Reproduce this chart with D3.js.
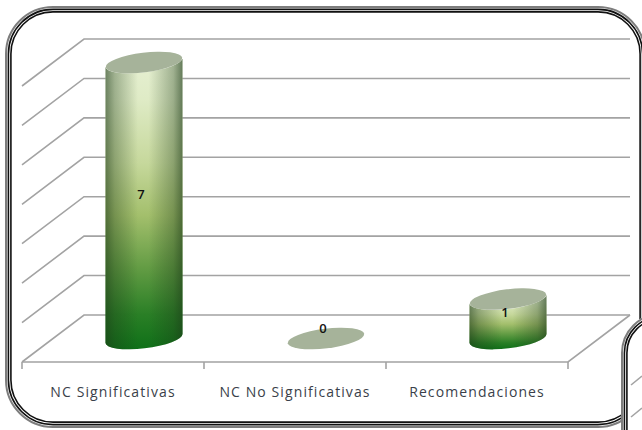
<!DOCTYPE html>
<html>
<head>
<meta charset="utf-8">
<script src="https://d3js.org/d3.v7.min.js"></script>
<style>
    html, body { margin: 0; padding: 0; background: #fff; }
    svg { display: block; }
    text { font-family: "Open Sans", sans-serif; }
</style>
</head>
<body>
<div id="chart"></div>
<script>
    var categories = ["NC Significativas", "NC No Significativas", "Recomendaciones"];
    var counts = [7, 0, 1];
    var wallTicks = [0, 1, 2, 3, 4, 5, 6, 7];
    // wall lines of the next panel, only its left edge shows
    var nextPanelTicks = [1, 2];

    var width = 642, height = 430;

    // front edge of the floor, the back wall sits one depth step up and right
    var floor = {left: 22, right: 568, front: 362};
    var depth = {x: 62, y: 47};

    var svg = d3.select("#chart")
        .append("svg")
        .attr("width", width)
        .attr("height", height);

    var x = d3.scaleBand().domain(categories).range([floor.left, floor.right]);
    var y = d3.scaleLinear().domain([0, 7]).range([floor.front - depth.y, 39]);

    var defs = svg.append("defs");

    // light at the top fading down to dark green
    var bodyGrad = defs.append("linearGradient")
        .attr("id", "bodyGrad")
        .attr("x1", 0).attr("y1", 0).attr("x2", 0).attr("y2", 1);
    [[0, "#e6f0d2"], [0.14, "#dfebc6"], [0.36, "#c6d89c"], [0.54, "#a3bf6c"],
     [0.72, "#639c44"], [0.88, "#2a7f26"], [1, "#0f7018"]].forEach(function(s) {
        bodyGrad.append("stop").attr("offset", s[0]).attr("stop-color", s[1]);
    });

    // dark edges that make the body look round
    var edgeGrad = defs.append("linearGradient")
        .attr("id", "edgeGrad")
        .attr("x1", 0).attr("y1", 0).attr("x2", 1).attr("y2", 0);
    [[0, 0.6], [0.12, 0.34], [0.42, 0], [0.56, 0], [0.88, 0.34], [1, 0.64]].forEach(function(s) {
        edgeGrad.append("stop")
            .attr("offset", s[0])
            .attr("stop-color", "#1c3a18")
            .attr("stop-opacity", s[1]);
    });

    function frame(x0, y0, x1, y1, r, fill) {
        var g = svg.append("g");
        g.append("rect")
            .attr("x", x0).attr("y", y0)
            .attr("width", x1 - x0).attr("height", y1 - y0)
            .attr("rx", r)
            .style("fill", fill);
        [[1, 2, "#7d7d7d"], [3.4, 1.6, "#111"], [5.9, 1.6, "#111"]].forEach(function(l) {
            g.append("rect")
                .attr("x", x0 + l[0]).attr("y", y0 + l[0])
                .attr("width", x1 - x0 - 2 * l[0]).attr("height", y1 - y0 - 2 * l[0])
                .attr("rx", r - l[0])
                .style("fill", "none")
                .style("stroke", l[2])
                .style("stroke-width", l[1]);
        });
    }

    frame(5, 6, 646, 428, 48, "#fff");

    // back wall, left wall and floor
    var grid = svg.append("g")
        .style("stroke", "#a3a3a3")
        .style("stroke-width", 1.6)
        .style("fill", "none");

    grid.selectAll(".wall")
        .data(wallTicks)
        .enter().append("path")
        .attr("class", "wall")
        .attr("d", function(d) {
            return "M" + floor.left + "," + (y(d) + depth.y) +
                "L" + (floor.left + depth.x) + "," + y(d) +
                "H" + (floor.right + depth.x);
        });

    grid.append("path")
        .attr("d", "M" + (floor.right + depth.x) + "," + y(0) +
            "L" + floor.right + "," + floor.front +
            "H" + floor.left);

    // category ticks sit on the band edges
    grid.selectAll(".cut")
        .data(categories.map(function(c) { return x(c); }).concat(floor.right))
        .enter().append("line")
        .attr("class", "cut")
        .attr("x1", function(d) { return d; })
        .attr("x2", function(d) { return d; })
        .attr("y1", floor.front)
        .attr("y2", floor.front + 7);

    var xAxis = d3.axisBottom(x).tickSize(0).tickPadding(25);
    var axisG = svg.append("g")
        .attr("transform", "translate(0," + floor.front + ")")
        .call(xAxis);
    axisG.select(".domain").remove();
    axisG.selectAll("text")
        .style("font-family", '"Open Sans", sans-serif')
        .style("font-size", "14px")
        .style("letter-spacing", "1.1px")
        .style("fill", "#3a3f4a");

    // cylinders
    var rx = 38.5, ry = 9.8, tilt = -7;
    var edgeDrop = 4.6;
    var baseShift = 23.5;

    function cx(c) { return x(c) + x.bandwidth() / 2 + depth.x / 2; }
    function baseY(v) { return y(v) + baseShift; }

    function sidePath(c, v) {
        var l = cx(c) - rx, r = cx(c) + rx;
        var top = baseY(v), bottom = baseY(0);
        var arc = "A" + rx + "," + ry + " " + tilt + " 0 ";
        return "M" + l + "," + (top + edgeDrop) +
            "L" + l + "," + (bottom + edgeDrop) +
            arc + "0 " + r + "," + (bottom - edgeDrop) +
            "L" + r + "," + (top - edgeDrop) +
            arc + "1 " + l + "," + (top + edgeDrop) + "Z";
    }

    var bars = svg.selectAll(".bar")
        .data(categories.map(function(c, i) { return {cat: c, val: counts[i]}; }))
        .enter().append("g")
        .attr("class", "bar");

    bars.filter(function(d) { return d.val > 0; })
        .append("path")
        .attr("d", function(d) { return sidePath(d.cat, d.val); })
        .style("fill", "url(#bodyGrad)");

    bars.filter(function(d) { return d.val > 0; })
        .append("path")
        .attr("d", function(d) { return sidePath(d.cat, d.val); })
        .style("fill", "url(#edgeGrad)");

    bars.append("ellipse")
        .attr("rx", rx)
        .attr("ry", ry)
        .attr("transform", function(d) {
            return "translate(" + cx(d.cat) + "," + baseY(d.val) + ") rotate(" + tilt + ")";
        })
        .style("fill", "#a6b39a");

    bars.append("text")
        .attr("x", function(d) { return cx(d.cat) - 3; })
        .attr("y", function(d) {
            var mid = (baseY(d.val) + baseY(0)) / 2;
            return d.val === 0 ? mid - 10 : mid - 6;
        })
        .attr("dy", ".35em")
        .attr("text-anchor", "middle")
        .style("font-size", "13px")
        .style("font-weight", 600)
        .style("fill", "#111")
        .text(function(d) { return d.val; });

    // next panel overlapping the bottom right corner
    frame(621, 313, 760, 520, 40, "#fff");

    svg.append("g").selectAll("line")
        .data(nextPanelTicks)
        .enter().append("line")
        .attr("x1", 631)
        .attr("x2", 642)
        .attr("y1", function(d) { return 385 + (d - 1) * 32; })
        .attr("y2", function(d) { return 376 + (d - 1) * 32; })
        .style("stroke", "#a3a3a3")
        .style("stroke-width", 1.6);
</script>
</body>
</html>
